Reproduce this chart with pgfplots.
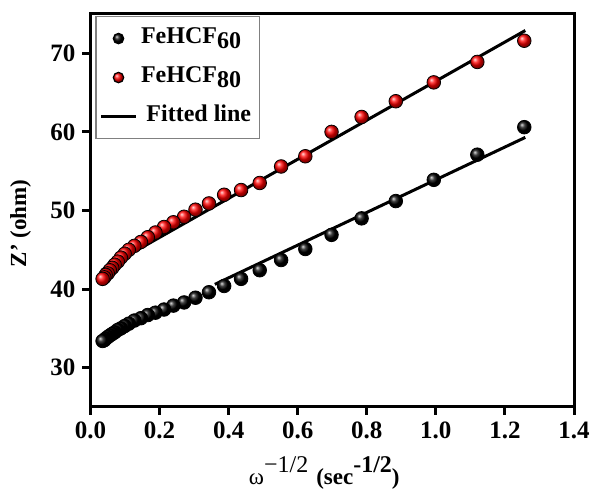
\documentclass[border=0pt]{standalone}
\usepackage{fontspec}
\setmainfont{Liberation Serif}
\usepackage{pgfplots}
\usepackage{pgfplotstable}
\pgfplotsset{compat=1.18}
\usetikzlibrary{calc}

\pgfplotstableread{
x      black  red
1.256  60.6   71.6
1.120  57.1   68.9
0.994  53.9   66.3
0.884  51.2   63.9
0.785  49.0   61.9
0.698  46.9   60.0
0.622  45.1   56.9
0.552  43.7   55.6
0.490  42.4   53.5
0.436  41.3   52.6
0.387  40.4   52.0
0.343  39.6   50.9
0.304  38.9   50.1
0.271  38.3   49.2
0.240  37.9   48.5
0.213  37.4   47.9
0.188  37.0   47.2
0.166  36.7   46.6
0.146  36.3   46.0
0.127  36.0   45.5
0.111  35.6   45.0
0.099  35.3   44.5
0.088  35.0   44.0
0.079  34.8   43.5
0.070  34.5   43.1
0.063  34.3   42.7
0.056  34.1   42.4
0.050  33.9   42.0
0.044  33.7   41.8
0.040  33.5   41.5
0.035  33.4   41.3
}\datatable

\newcommand{\mysub}[1]{\raisebox{-0.45ex}{\fontsize{12}{12}\selectfont #1}}
\newcommand{\mysup}[1]{\raisebox{0.5em}{\fontsize{12}{12}\selectfont #1}}

\begin{document}
\begin{tikzpicture}
\begin{axis}[
  name=ax,
  scale only axis,
  width=241.75pt, height=196.5pt,
  xmin=0, xmax=1.4, ymin=25, ymax=75,
  xtick={0,0.2,...,1.4},
  ytick={30,40,50,60,70},
  xtick pos=bottom, ytick pos=left,
  tick align=outside,
  major tick length=4pt,
  every tick/.style={line width=1.5pt, black},
  axis line style={line width=1.5pt},
  /pgf/number format/assume math mode=true,
  xticklabel style={/pgf/number format/fixed, /pgf/number format/fixed zerofill, /pgf/number format/precision=1},
  ticklabel style={font=\fontsize{12.5}{14}\selectfont\bfseries},
  label style={font=\fontsize{11.5}{13}\selectfont\bfseries},
  xlabel={{\mdseries ω\mysup{−1/2}}\hspace{4pt}(sec\mysup{-1/2})},
  ylabel={Z’ (ohm)},
  xlabel style={at={(axis description cs:0.5,-0.196)}, anchor=base, xshift=-4pt},
  ylabel style={at={(axis description cs:-0.1448,0.467)}, anchor=center},
  legend style={at={(axis description cs:0.01,0.995)}, anchor=north west,
    draw=gray, line width=0.6pt, font=\fontsize{12}{14}\selectfont\bfseries,
    row sep=1.5pt, inner sep=2pt,
    nodes={text height=9.5pt, text depth=4.5pt}},
  legend cell align=left,
  clip=false,
]
\addlegendimage{only marks, mark=ball, ball color=black, mark size=2.6pt}
\addlegendentry{FeHCF\mysub{60}}
\addlegendimage{only marks, mark=ball, ball color=red, mark size=2.6pt}
\addlegendentry{FeHCF\mysub{80}}
\addlegendimage{black, line width=1.5pt}
\addlegendentry{\hspace{2.7pt}Fitted line}

\addplot[forget plot, only marks, mark=ball, ball color=black, mark size=3.4pt] table[x=x, y=black] {\datatable};
\addplot[forget plot, only marks, mark=ball, ball color=red, mark size=3.4pt] table[x=x, y=red] {\datatable};
\addplot[forget plot, black, line width=1.5pt] coordinates {(0.36,40.6) (1.259,59.3)};
\addplot[forget plot, black, line width=1.5pt] coordinates {(0.032,42.4) (1.259,72.9)};
\end{axis}
\pgfresetboundingbox
\path ($(ax.south west)+(-45.25pt,-41pt)$) rectangle ($(ax.north east)+(9pt,7pt)$);
\end{tikzpicture}
\end{document}
